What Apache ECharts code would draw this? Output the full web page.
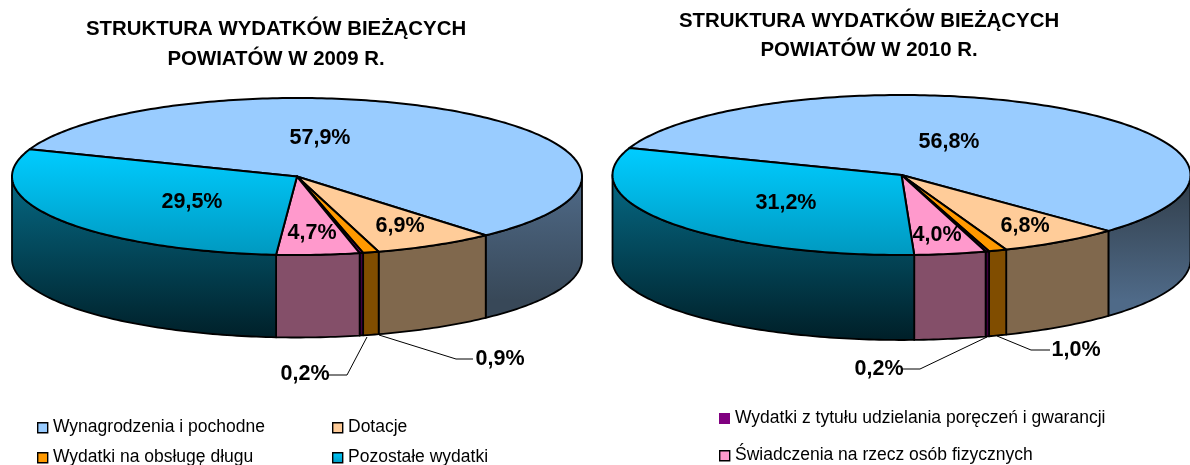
<!DOCTYPE html>
<html><head><meta charset="utf-8">
<style>html,body{margin:0;padding:0;background:#fff}#c{width:1190px;height:465px}</style>
<script src="https://cdn.jsdelivr.net/npm/echarts@6/dist/echarts.min.js"></script>
</head><body><div id="c"></div>
<script>
const categories = ['Wynagrodzenia i pochodne','Dotacje','Wydatki na obsługę długu','Wydatki z tytułu udzielania poręczeń i gwarancji','Świadczenia na rzecz osób fizycznych','Pozostałe wydatki'];
const values2009 = [57.9,6.9,0.9,0.2,4.7,29.5];
const values2010 = [56.8,6.8,1.0,0.2,4.0,31.2];
const titles = ['STRUKTURA WYDATKÓW BIEŻĄCYCH\nPOWIATÓW W 2009 R.','STRUKTURA WYDATKÓW BIEŻĄCYCH\nPOWIATÓW W 2010 R.'];

// layout & style (no data)
const topColors = ['#99ccff','#ffcc99','#ff9900','#800080','#ff99cc',null];
const flatSides = [null,'#80684d','#804d00','#400040','#844f69',null];
const grad = (y0,y1,a,b)=>({type:'linear',x:0,y:y0,x2:0,y2:y1,global:true,colorStops:[{offset:0,color:a},{offset:1,color:b}]});
const pies = [
 {values:values2009,cx:297,cy:176.5,rx:285,ry:78.5,depth:82.5,start:200.3,
  blueSide:grad(178,300,'#4f6a88','#384858'),
  labels:[[320,138],[400,226],[500,359],[305,374],[312,233],[192,202]],
  leaders:{2:[[379,335],[456,359],[473,359]],3:[[367,337],[347,375],[329,375]]}},
 {values:values2010,cx:901.5,cy:175,rx:289,ry:80,depth:85,start:199.8,
  blueSide:grad(190,300,'#344250','#4f6a88'),
  labels:[[949,142],[1025,226],[1076,350],[879,369],[937,235],[786,203]],
  leaders:{2:[[997,336],[1031,350],[1050,350]],3:[[987,337],[920,369],[901,369]]}}
];
const cyanTop = grad(150,255,'#00ccff','#0099c0');
const cyanSide = grad(185,340,'#05657f','#001f28');
const legendItems = [
 {i:0,x:37,y:427},{i:1,x:332,y:427},{i:2,x:37,y:457},{i:5,x:332,y:457},
 {i:3,x:719,y:418,noBorder:true},{i:4,x:719,y:455}
];

function sliceRanges(p){
  const total = p.values.reduce((a,b)=>a+b,0); let a = p.start;
  return p.values.map(v=>{const s=a; a+=v/total*360; return [s,a];});
}
function pt(p,deg,dy){const r=deg*Math.PI/180;return [p.cx+p.rx*Math.cos(r),p.cy+p.ry*Math.sin(r)+(dy||0)];}
function arc(p,a,b,dy){const out=[];const n=Math.max(2,Math.ceil(Math.abs(b-a)));for(let k=0;k<=n;k++)out.push(pt(p,a+(b-a)*k/n,dy));return out;}
const labelFmt = v=>v.toFixed(1).replace('.',',')+'%';

function sideSeries(p){
  const rng = sliceRanges(p);
  return {type:'custom',coordinateSystem:'none',silent:true,z:1,clip:false,data:p.values.map((v,i)=>({name:categories[i],value:v})),
    renderItem(params){
      const i=params.dataIndex,[a,b]=rng[i],children=[];
      [[0,180],[360,540]].forEach(([lo,hi])=>{
        const s=Math.max(a,lo),e=Math.min(b,hi);
        if(e>s){
          const fill = i===0?p.blueSide:(i===5?cyanSide:flatSides[i]);
          children.push({type:'polygon',shape:{points:arc(p,s,e,0).concat(arc(p,e,s,p.depth))},
            style:{fill,stroke:'#000',lineWidth:1.8,lineJoin:'round'}});
        }
      });
      return {type:'group',children};
    }};
}
function topSeries(p){
  const rng = sliceRanges(p);
  return {type:'custom',coordinateSystem:'none',silent:true,z:2,clip:false,data:p.values.map((v,i)=>({name:categories[i],value:v})),
    renderItem(params){
      const i=params.dataIndex,[a,b]=rng[i];
      return {type:'polygon',shape:{points:[[p.cx,p.cy]].concat(arc(p,a,b,0))},
        style:{fill:i===5?cyanTop:topColors[i],stroke:'#000',lineWidth:2,lineJoin:'round'}};
    }};
}
function labelSeries(p){
  return {type:'custom',coordinateSystem:'none',silent:true,z:3,clip:false,data:p.values.map((v,i)=>({name:categories[i],value:v})),
    renderItem(params,api){
      const i=params.dataIndex,children=[];
      if(p.leaders[i])children.push({type:'polyline',shape:{points:p.leaders[i]},style:{fill:null,stroke:'#000',lineWidth:1}});
      children.push({type:'text',x:p.labels[i][0],y:p.labels[i][1],
        style:{text:labelFmt(api.value(0)),font:'bold 21.5px "Liberation Sans",Arial,sans-serif',fill:'#000',align:'center',verticalAlign:'middle'}});
      return {type:'group',children};
    }};
}
const swatchFill = i=>i===5?{type:'linear',x:0,y:0,x2:0,y2:1,colorStops:[{offset:0,color:'#00ccff'},{offset:1,color:'#0099c0'}]}:topColors[i];
const legendGraphics = [];
legendItems.forEach(l=>{
  legendGraphics.push({type:'rect',left:l.x,top:l.y-5,shape:{width:l.noBorder?11:10,height:l.noBorder?11:10},
    style:{fill:swatchFill(l.i),stroke:l.noBorder?null:'#000',lineWidth:1.4},silent:true});
  legendGraphics.push({type:'text',x:l.x+16,y:l.y,style:{text:categories[l.i],font:'17.5px "Liberation Sans",Arial,sans-serif',fill:'#000',verticalAlign:'middle',align:'left'},silent:true});
});

const chart = echarts.init(document.getElementById('c'),null,{renderer:'canvas'});
chart.setOption({
  animation:false,
  backgroundColor:'#fff',
  title:[
   {text:titles[0],left:271,top:9,textAlign:'center',textStyle:{fontFamily:'"Liberation Sans",Arial,sans-serif',fontWeight:'bold',fontSize:20.4,lineHeight:30,color:'#000'}},
   {text:titles[1],left:864,top:2,textAlign:'center',textStyle:{fontFamily:'"Liberation Sans",Arial,sans-serif',fontWeight:'bold',fontSize:20.4,lineHeight:29,color:'#000'}}
  ],
  graphic:legendGraphics,
  series:pies.flatMap(p=>[sideSeries(p),topSeries(p),labelSeries(p)])
});
</script></body></html>
